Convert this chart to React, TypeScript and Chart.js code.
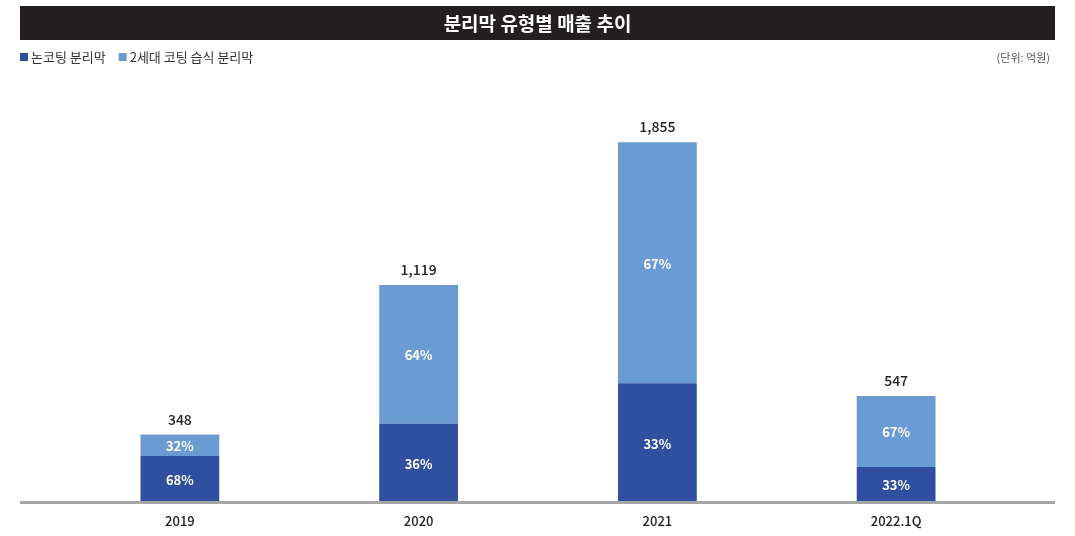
import React, { useEffect, useRef } from "react";
import { Chart, registerables } from "chart.js";

Chart.register(...registerables);

const TITLE = "분리막 유형별 매출 추이";
const UNIT = "(단위: 억원)";
const categories = ["2019", "2020", "2021", "2022.1Q"];
const seriesNames = ["논코팅 분리막", "2세대 코팅 습식 분리막"];
const nonCoated = [237, 403, 612, 181];
const coatedWet = [111, 716, 1243, 366];
const totalLabels = ["348", "1,119", "1,855", "547"];
const nonCoatedPct = ["68%", "36%", "33%", "33%"];
const coatedWetPct = ["32%", "64%", "67%", "67%"];

const DARK = "#30509f";
const LIGHT = "#6a9bd3";
const FONT = '"Noto Sans CJK KR", "Noto Sans", sans-serif';

export default function App() {
  const ref = useRef<HTMLCanvasElement | null>(null);
  useEffect(() => {
    if (!ref.current) return;
    const decor = {
      id: "decor",
      beforeDraw(chart: any) {
        const ctx = chart.ctx;
        ctx.save();
        ctx.fillStyle = "#fff";
        ctx.fillRect(0, 0, chart.width, chart.height);
        // title bar
        ctx.fillStyle = "#231f20";
        ctx.fillRect(20, 6, 1035, 34);
        ctx.fillStyle = "#ffffff";
        ctx.font = `bold 19px ${FONT}`;
        ctx.textAlign = "center";
        ctx.textBaseline = "middle";
        ctx.fillText(TITLE, 537.5, 23.5);
        // legend
        ctx.font = `13px ${FONT}`;
        ctx.textAlign = "left";
        let x = 20;
        const colors = [DARK, LIGHT];
        seriesNames.forEach((n, i) => {
          ctx.fillStyle = colors[i];
          ctx.fillRect(x, 53, 8, 8);
          ctx.fillStyle = "#333";
          ctx.fillText(n, x + 11, 57.5);
          x += 11 + ctx.measureText(n).width + 13;
        });
        // unit
        ctx.font = `11px ${FONT}`;
        ctx.fillStyle = "#555";
        ctx.textAlign = "right";
        ctx.fillText(UNIT, 1050, 57.5);
        ctx.restore();
      },
      afterDatasetsDraw(chart: any) {
        const ctx = chart.ctx;
        const xs = chart.scales.x;
        const area = chart.chartArea;
        ctx.save();
        // axis line
        ctx.fillStyle = "#a6a6a6";
        ctx.fillRect(20, area.bottom - 1, 1035, 3);
        // segment labels
        ctx.textAlign = "center";
        ctx.textBaseline = "middle";
        ctx.font = `bold 13px ${FONT}`;
        ctx.fillStyle = "#ffffff";
        const pcts = [nonCoatedPct, coatedWetPct];
        chart.data.datasets.forEach((_: any, di: number) => {
          const meta = chart.getDatasetMeta(di);
          meta.data.forEach((bar: any, i: number) => {
            const yc = (bar.y + bar.base) / 2;
            ctx.fillText(pcts[di][i], bar.x, yc + 1);
          });
        });
        // totals
        const topMeta = chart.getDatasetMeta(1);
        ctx.font = `500 14px ${FONT}`;
        ctx.fillStyle = "#222";
        topMeta.data.forEach((bar: any, i: number) => {
          ctx.fillText(totalLabels[i], bar.x, bar.y - 15);
        });
        // x labels
        ctx.font = `500 13px ${FONT}`;
        categories.forEach((c, i) => {
          ctx.fillText(c, xs.getPixelForValue(i), 521);
        });
        ctx.restore();
      },
    };
    const chart = new Chart(ref.current, {
      type: "bar",
      data: {
        labels: categories,
        datasets: [
          { label: seriesNames[0], data: nonCoated, backgroundColor: DARK, barPercentage: 0.33, categoryPercentage: 1 },
          { label: seriesNames[1], data: coatedWet, backgroundColor: LIGHT, barPercentage: 0.33, categoryPercentage: 1 },
        ],
      },
      options: {
        responsive: false,
        animation: false,
        layout: { padding: { left: 60.5, right: 59.5, top: 114, bottom: 34 } },
        plugins: { legend: { display: false }, tooltip: { enabled: false }, title: { display: false } },
        scales: {
          x: { stacked: true, display: false },
          y: { stacked: true, display: false, min: 0, max: 2000 },
        },
      },
      plugins: [decor],
    });
    return () => chart.destroy();
  }, []);
  return (
    <div style={{ position: "fixed", left: 0, top: 0, width: 1075, height: 536, background: "#fff" }}>
      <canvas ref={ref} width={1075} height={536} style={{ width: 1075, height: 536, display: "block" }} />
    </div>
  );
}
